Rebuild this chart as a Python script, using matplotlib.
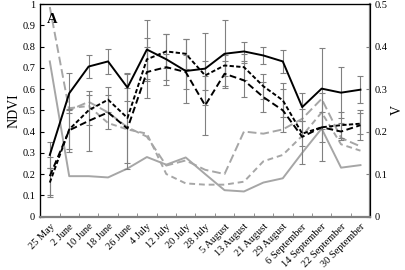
# plot.py
# NDVI (eje izquierdo) y V (eje derecho) por fecha de muestreo

import numpy as np
import matplotlib
matplotlib.use("Agg")
import matplotlib.pyplot as plt
from matplotlib.ticker import FixedLocator

plt.rcParams["font.family"] = ["Liberation Serif", "DejaVu Serif"]

# ─── Datos ────────────────────────────────────────────────────────────────────

fechas = ["25 May", "2 June", "10 June", "18 June", "26 June", "4 July", "12 July",
          "20 July", "28 July", "5 August", "13 August", "21 August", "29 August",
          "6 September", "14 September", "22 September", "30 September"]

# NDVI (eje izquierdo)
ndvi_solida = [0.29, 0.58, 0.706, 0.73, 0.607, 0.786, 0.74, 0.685, 0.696, 0.766,
               0.777, 0.758, 0.73, 0.515, 0.602, 0.583, 0.597]
ndvi_guion_a = [0.16, 0.41, 0.50, 0.55, 0.464, 0.74, 0.777, 0.766, 0.664, 0.711,
                0.703, 0.613, 0.547, 0.39, 0.42, 0.43, 0.437]
ndvi_guion_b = [0.19, 0.406, 0.45, 0.49, 0.414, 0.68, 0.703, 0.68, 0.523, 0.672,
                0.641, 0.562, 0.50, 0.375, 0.42, 0.40, 0.43]

err_solida = [0.06, 0.095, 0.055, 0.06, 0.065, 0.14, 0.12, 0.15, 0.17, 0.16,
              0.045, 0.04, 0.055, 0.065, 0.19, 0.12, 0.065]
err_guion_a = [0.07, 0.09, 0.07, 0.06, 0.21, 0.10, 0.08, 0.07, 0.07, 0.05,
               0.06, 0.06, 0.08, 0.06, 0.07, 0.06, 0.05]
err_guion_b = [0.09, 0.10, 0.14, 0.08, 0.19, 0.12, 0.06, 0.08, 0.14, 0.06,
               0.08, 0.07, 0.10, 0.13, 0.16, 0.04, 0.07]

# V (eje derecho)
v_solida = [0.365, 0.095, 0.095, 0.092, 0.113, 0.14, 0.122, 0.139, 0.10, 0.062,
            0.059, 0.08, 0.09, 0.15, 0.207, 0.115, 0.121]
v_guion_largo = [0.493, 0.25, 0.27, 0.245, 0.21, 0.188, 0.12, 0.132, 0.11, 0.10,
                 0.20, 0.195, 0.205, 0.23, 0.277, 0.185, 0.165]
v_guion_medio = [np.nan, 0.255, 0.26, 0.22, 0.205, 0.195, 0.10, 0.078, 0.075, 0.075,
                 0.082, 0.13, 0.145, 0.19, 0.245, 0.17, 0.155]

# ─── Gráfica ──────────────────────────────────────────────────────────────────

x = np.arange(len(fechas))
gris = "#a6a6a6"
gris_err = "#808080"

fig = plt.figure(figsize=(4.05, 2.7), dpi=100)
ax1 = fig.add_axes([0.099, 0.198, 0.815, 0.787])
ax2 = ax1.twinx()

# Series V en gris (eje derecho)
ax2.plot(x, v_solida, color=gris, linewidth=1.4)
ax2.plot(x, v_guion_largo, color=gris, linewidth=1.4, linestyle=(0, (4.5, 2)))
ax2.plot(x, v_guion_medio, color=gris, linewidth=1.4, linestyle=(0, (3, 2)))

# Series NDVI en negro con barras de error
for serie, err, estilo in [(ndvi_solida, err_solida, "-"),
                           (ndvi_guion_a, err_guion_a, (0, (2.2, 1.2))),
                           (ndvi_guion_b, err_guion_b, (0, (3.5, 1.8)))]:
    ax1.errorbar(x, serie, yerr=err, fmt="none", ecolor=gris_err, elinewidth=0.8,
                 capsize=2.5, capthick=0.8, zorder=2)
    ax1.plot(x, serie, color="black", linewidth=1.4, linestyle=estilo, zorder=3)

ax1.set_zorder(ax2.get_zorder() + 1)
ax1.patch.set_visible(False)

ax1.set_xlim(-0.5, len(fechas) - 0.5)
ax1.set_ylim(0, 1)
ax2.set_ylim(0, 0.5)

ax1.set_yticks(np.arange(0, 1.01, 0.1))
ax1.set_yticklabels(["0", "0.1", "0.2", "0.3", "0.4", "0.5", "0.6", "0.7", "0.8", "0.9", "1"])
ax2.set_yticks(np.arange(0, 0.51, 0.1))
ax2.set_yticklabels(["0", "0.1", "0.2", "0.3", "0.4", "0.5"])

ax1.set_xticks(x)
ax1.set_xticklabels(fechas, rotation=45, ha="right", rotation_mode="anchor", fontsize=7.5)
ax1.xaxis.set_minor_locator(FixedLocator(np.arange(-0.5, len(fechas), 1)))
ax1.tick_params(axis="x", which="major", length=0, pad=4)
ax1.tick_params(axis="x", which="minor", direction="in", length=3, color=gris_err)
ax1.tick_params(axis="y", direction="in", length=3, labelsize=7.5)
ax2.tick_params(axis="y", direction="in", length=3, labelsize=7.5, color=gris_err)

ax1.set_ylabel("NDVI", fontsize=10, labelpad=1)
ax2.set_ylabel("V", fontsize=10, labelpad=2)

for lado in ["left", "top"]:
    ax1.spines[lado].set_linewidth(0.9)
ax1.spines["bottom"].set_color(gris_err)
ax1.spines["bottom"].set_linewidth(1.6)
ax2.spines["right"].set_color(gris_err)
ax2.spines["right"].set_linewidth(1.6)
ax2.spines["bottom"].set_visible(False)

ax1.text(0.02, 0.96, "A", transform=ax1.transAxes, fontsize=10.5, fontweight="bold",
         va="top", ha="left")

fig.savefig("out.png", dpi=100)
